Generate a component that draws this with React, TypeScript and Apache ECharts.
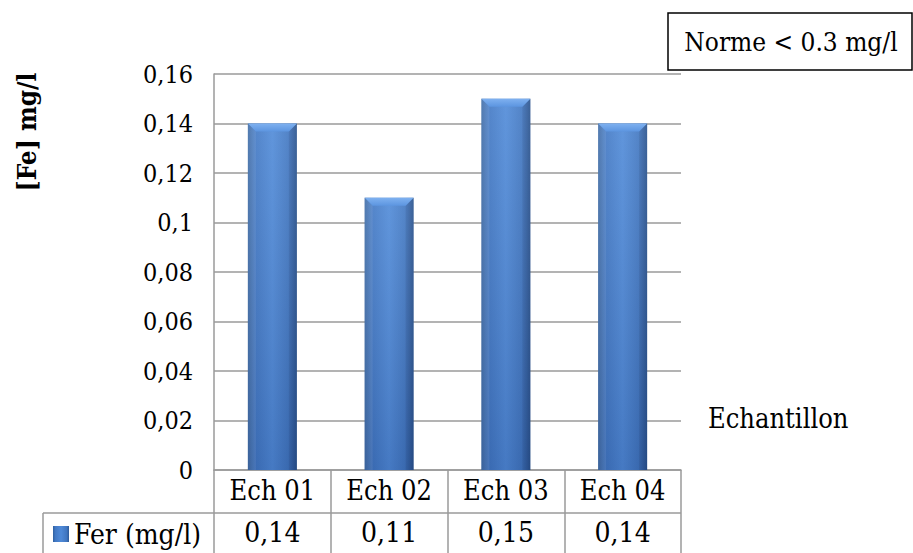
import React, { useEffect, useRef } from "react";
import * as echarts from "echarts";

const categories = ["Ech 01", "Ech 02", "Ech 03", "Ech 04"];
const ferValues = [0.14, 0.11, 0.15, 0.14];
const seriesName = "Fer (mg/l)";
const yTitle = "[Fe] mg/l";
const xTitle = "Echantillon";
const normeText = "Norme < 0.3 mg/l";

const FONT = "DejaVu Serif Condensed, DejaVu Serif";
const GRID = { left: 214, right: 232, top: 74, bottom: 83 };
const BAR_FRACTION = 0.42;
const GRAY = "#9a9a9a";

const fmt = (v: number) => String(Number(v.toFixed(2))).replace(".", ",");

const barFill = new echarts.graphic.LinearGradient(0, 0, 1, 0, [
  { offset: 0, color: "#2f609f" },
  { offset: 0.15, color: "#4178c4" },
  { offset: 0.5, color: "#4f8ad8" },
  { offset: 0.85, color: "#4076c0" },
  { offset: 1, color: "#2d5a98" },
]);

export default function App() {
  const ref = useRef<HTMLDivElement>(null);

  useEffect(() => {
    if (!ref.current) return;
    const chart = echarts.init(ref.current, undefined, { renderer: "svg" });

    const option: echarts.EChartsOption = {
      animation: false,
      backgroundColor: "#ffffff",
      textStyle: { fontFamily: FONT, color: "#000" },
      grid: { ...GRID, containLabel: false },
      legend: {
        data: [seriesName],
        left: 53,
        top: 520,
        padding: 0,
        icon: "rect",
        itemWidth: 16,
        itemHeight: 16,
        itemGap: 0,
        textStyle: { fontFamily: FONT, fontSize: 28, color: "#000" },
        selectedMode: false,
      },
      xAxis: [
        {
          type: "category",
          data: categories,
          position: "bottom",
          axisLine: { show: true, lineStyle: { color: GRAY, width: 1.5 } },
          axisTick: { show: true, length: 83, lineStyle: { color: GRAY, width: 1.5 } },
          axisLabel: { fontFamily: FONT, fontSize: 27, color: "#000", margin: 7 },
        },
        {
          type: "category",
          data: ferValues.map(fmt),
          position: "bottom",
          offset: 43,
          axisLine: { show: false },
          axisTick: { show: false },
          axisLabel: { fontFamily: FONT, fontSize: 28, color: "#000", margin: 5 },
        },
      ],
      yAxis: {
        type: "value",
        min: 0,
        max: 0.16,
        interval: 0.02,
        axisLine: { show: true, lineStyle: { color: GRAY, width: 1.5 } },
        axisTick: { show: false },
        splitLine: { show: true, lineStyle: { color: GRAY, width: 1.5 } },
        axisLabel: {
          fontFamily: FONT,
          fontSize: 25,
          color: "#000",
          margin: 21,
          formatter: (v: number) => fmt(v),
        },
      },
      series: [
        {
          name: seriesName,
          type: "bar",
          data: ferValues,
          barWidth: `${BAR_FRACTION * 100}%`,
          itemStyle: { color: barFill },
          z: 2,
        },
        {
          name: "bevel",
          type: "custom",
          data: ferValues.map((v, i) => [i, v]),
          encode: { x: 0, y: 1 },
          z: 3,
          silent: true,
          renderItem: (_params: any, api: any) => {
            const top = api.coord([api.value(0), api.value(1)]);
            const base = api.coord([api.value(0), 0]);
            const band = api.size([1, 0])[0];
            const w = band * BAR_FRACTION;
            const x0 = top[0] - w / 2;
            const x1 = top[0] + w / 2;
            const y0 = top[1];
            const y1 = base[1];
            const b = 8;
            return {
              type: "group",
              children: [
                {
                  type: "rect",
                  shape: { x: x0, y: y0, width: w, height: y1 - y0 },
                  style: {
                    fill: new echarts.graphic.LinearGradient(0, 0, 0, 1, [
                      { offset: 0, color: "rgba(255,255,255,0.10)" },
                      { offset: 1, color: "rgba(0,0,40,0.12)" },
                    ]),
                  },
                },
                {
                  type: "polygon",
                  shape: { points: [[x0, y0], [x0 + b, y0 + b], [x0 + b, y1], [x0, y1]] },
                  style: { fill: "rgba(255,255,255,0.08)" },
                },
                {
                  type: "polygon",
                  shape: { points: [[x1, y0], [x1 - b, y0 + b], [x1 - b, y1], [x1, y1]] },
                  style: { fill: "rgba(0,0,30,0.08)" },
                },
                {
                  type: "polygon",
                  shape: { points: [[x0, y0], [x1, y0], [x1 - b, y0 + b], [x0 + b, y0 + b]] },
                  style: {
                    fill: new echarts.graphic.LinearGradient(0, 0, 0, 1, [
                      { offset: 0, color: "#7fb1f0" },
                      { offset: 1, color: "#5c95e0" },
                    ]),
                  },
                },
              ],
            };
          },
        },
      ],
      graphic: [
        {
          type: "line",
          shape: { x1: 43, y1: 513, x2: 681, y2: 513 },
          style: { stroke: GRAY, lineWidth: 1.5 },
        },
        {
          type: "line",
          shape: { x1: 43, y1: 513, x2: 43, y2: 553 },
          style: { stroke: GRAY, lineWidth: 1.5 },
        },
        {
          type: "text",
          x: 27,
          y: 132,
          rotation: Math.PI / 2,
          style: {
            text: yTitle,
            fontFamily: FONT,
            fontSize: 26,
            fontWeight: "bold",
            fill: "#000",
            align: "center",
            verticalAlign: "middle",
          },
        },
        {
          type: "text",
          x: 708,
          y: 418,
          style: {
            text: xTitle,
            fontFamily: FONT,
            fontSize: 27,
            fill: "#000",
            align: "left",
            verticalAlign: "middle",
          },
        },
        {
          type: "rect",
          shape: { x: 668, y: 13, width: 244, height: 57 },
          style: { fill: "#fff", stroke: "#000", lineWidth: 1.5 },
        },
        {
          type: "text",
          x: 791,
          y: 42,
          style: {
            text: normeText,
            fontFamily: FONT,
            fontSize: 26,
            fill: "#000",
            align: "center",
            verticalAlign: "middle",
          },
        },
      ],
    };

    chart.setOption(option);
    return () => chart.dispose();
  }, []);

  return (
    <div
      ref={ref}
      style={{ position: "fixed", left: 0, top: 0, width: 913, height: 553, background: "#fff" }}
    />
  );
}
